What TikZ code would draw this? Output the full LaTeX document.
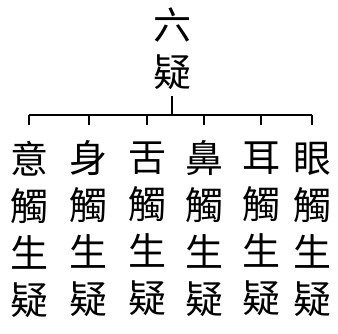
\documentclass[tikz,border=0pt]{standalone}
\usepackage{fontspec}
\newfontfamily\cjk{Noto Sans CJK TC}
\usepackage{tikz}

\begin{document}
\begin{tikzpicture}[x=1pt,y=-1pt,
	col/.style={align=center,inner sep=0,outer sep=0,font=\cjk\fontsize{38}{47}\selectfont},
	branch/.style={line width=1.3pt}]
	\useasboundingbox (0,0) rectangle (338,334);
	\node[col] (liuyi) at (172,48.5) {六\\疑};
	\node[col] (yi) at (29,229) {意\\觸\\生\\疑};
	\node[col] (shen) at (89,229) {身\\觸\\生\\疑};
	\node[col] (she) at (147,229) {舌\\觸\\生\\疑};
	\node[col] (bi) at (204,229) {鼻\\觸\\生\\疑};
	\node[col] (er) at (261,229) {耳\\觸\\生\\疑};
	\node[col] (yan) at (312,229) {眼\\觸\\生\\疑};
	\coordinate (top) at (172,96);
	\coordinate (bar) at (172,115);
	\draw[branch] (top) -- (bar);
	\draw[branch] (yi |- bar) -- (yan |- bar);
	\foreach \c in {yi,shen,she,bi,er,yan}
		\draw[branch] (\c |- bar) -- ++(0,10);
\end{tikzpicture}
\end{document}
